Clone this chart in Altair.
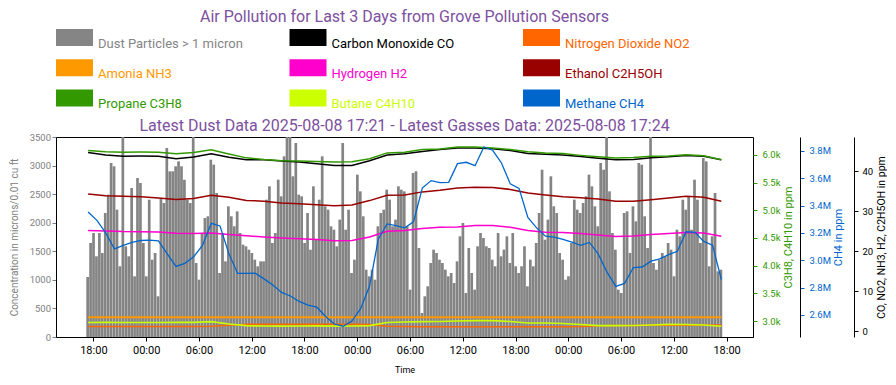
import altair as alt
import pandas as pd

FONT = "Roboto"
PURPLE = "#7d50a0"
GREY = "#808080"
GREEN = "#339900"
BLUE = "#0066cc"
BLACK = "#000000"
NO2C = "#ff6600"
NH3C = "#ff9900"
H2C = "#ff00cc"
ETHC = "#990000"
BUTC = "#ccff00"

# ---------------- data ----------------
legend_names = ["Dust Particles > 1 micron", "Carbon Monoxide CO", "Nitrogen Dioxide NO2",
                "Amonia NH3", "Hydrogen H2", "Ethanol C2H5OH",
                "Propane C3H8", "Butane C4H10", "Methane CH4"]
legend_colors = ["#858585", BLACK, NO2C, NH3C, H2C, ETHC, GREEN, BUTC, BLUE]

# dust particles, one reading every 20 minutes
dust_values = [
    1050, 1645, 1820, 1412, 1820, 1470, 2170, 2491, 3045, 2987,
    2228, 1237, 3800, 1587, 1412, 2608, 1062, 2783, 2695, 1645,
    1062, 2403, 1353, 1470, 712, 2433, 2345, 3308, 2899, 2899,
    2987, 3074, 2987, 2753, 2403, 2345, 3800, 1295, 1003, 1820,
    2083, 2112, 3103, 3016, 2520, 1120, 1820, 1324, 2287, 2112,
    1937, 2199, 1820, 1616, 1587,
    1528, 1470, 1353, 1237, 1324, 1324, 2403, 2637, 1645, 1820,
    2753, 2462, 3162, 3800, 3700, 2812, 3395, 2491, 2462, 1645,
    2170, 1528, 2637, 1703, 2403, 3162, 2287, 2228, 1937, 1878,
    1587, 2054, 3395, 1878, 2228, 1120, 1353, 2841, 2549, 2112,
    1178, 1062, 1178, 1003, 1937, 2170, 2228, 2578, 2403, 1937,
    2054, 2637, 2578, 2549, 1937,
    828, 2870, 2900, 1558, 420, 712, 887, 1295, 1528, 1470,
    1353, 1295, 1178, 1062, 1120, 945, 1324, 1762, 1995, 770,
    1558, 1120, 828, 1587, 1820, 1733, 1587, 1558, 1353, 1237,
    1820, 1412, 1528, 1762, 1295, 1820, 1237, 1120, 1237, 1587,
    887, 1353, 1237, 1645, 2170, 2928, 1703, 2054, 2812, 2287,
    2170, 1470, 1353, 1003,
    1062, 1645, 2403, 2228, 2170, 2345, 2462, 2841, 2637, 2287,
    1937, 3045, 2928, 3800, 2549, 1820, 1528, 828, 770, 2170,
    2199, 1470, 2287, 2024, 3045, 3016, 2112, 1558, 3800, 1295,
    1178, 1353, 1470, 1412, 1645, 1528, 1062, 1878, 1762, 2403,
    2228, 2462, 1878, 2753, 2403, 1645, 3133, 3074, 1237, 1762,
    2520, 1149, 1178,
]
dust_times = pd.date_range("2025-08-05 17:21", periods=len(dust_values), freq="20min")

# gases, one reading every 2 hours
co_values = [44.65, 44.0, 43.7, 43.73, 43.7, 43.08, 43.5, 44.33, 43.45, 42.8,
             42.83, 42.5, 42.25, 41.83, 41.38, 41.38, 42.58, 44.0, 44.3, 44.85,
             45.35, 45.73, 45.75, 45.55, 45.1, 44.4, 44.18, 44.03, 43.63, 43.2,
             42.83, 42.88, 43.33, 43.58, 43.88, 43.7, 42.83]
propane_values = [6083, 6060, 6051, 6052, 6051, 6023, 6045, 6094, 6018, 5948,
                  5917, 5895, 5892, 5881, 5874, 5877, 5931, 6038, 6051, 6098,
                  6110, 6143, 6145, 6126, 6098, 6060, 6036, 6025, 5993, 5966,
                  5946, 5955, 5977, 5980, 6004, 5986, 5915]
ethanol_values = [34.23, 33.83, 33.7, 33.55, 33.28, 32.85, 33.15, 33.95, 33.45, 32.63,
                  32.45, 32.03, 31.8, 31.58, 31.3, 31.48, 32.6, 33.93, 33.98, 34.78,
                  35.2, 35.73, 35.93, 35.85, 35.4, 34.5, 34.0, 33.55, 33.3, 32.98,
                  32.45, 32.43, 32.83, 33.25, 33.68, 33.45, 32.43]
h2_values = [25.15, 25.0, 24.85, 24.83, 24.73, 24.45, 24.38, 24.5, 24.1, 23.8,
             23.53, 23.25, 23.05, 22.9, 22.55, 22.65, 23.5, 24.93, 25.15, 25.6,
             25.93, 26.0, 26.4, 26.4, 25.93, 25.1, 24.68, 24.63, 24.38, 24.0,
             23.65, 23.73, 24.15, 24.38, 24.6, 24.48, 23.68]
nh3_values = [3.42] * 37
no2_values = [1.15, 1.15, 1.15, 1.15, 1.15, 1.15, 1.15, 1.2, 1.45, 1.7,
              1.7, 1.7, 1.7, 1.7, 1.7, 1.7, 1.65, 1.2, 1.1, 1.05,
              1.05, 1.05, 1.05, 1.05, 1.05, 1.05, 1.05, 1.05, 1.1, 1.3,
              1.4, 1.4, 1.45, 1.45, 1.45, 1.45, 1.5]
butane_values = [2973, 2977, 2973, 2973, 2973, 2977, 2977, 2988, 2946, 2915,
                 2910, 2908, 2910, 2912, 2908, 2910, 2915, 2973, 2982, 2988,
                 2991, 3000, 3006, 3006, 2991, 2964, 2964, 2955, 2937, 2915,
                 2915, 2919, 2928, 2940, 2937, 2928, 2905]
gas_times = pd.date_range("2025-08-05 17:24", periods=37, freq="2h")

# methane, one reading every hour
methane_values = [
    3.354, 3.292, 3.200, 3.083, 3.109, 3.132, 3.145, 3.147, 3.142, 3.047,
    2.955, 2.978, 3.025, 3.109, 3.270, 3.251, 3.049, 2.904, 2.904, 2.906,
    2.864, 2.820, 2.765, 2.739, 2.699, 2.673, 2.657, 2.589, 2.534, 2.518,
    2.556, 2.648, 2.812, 3.156, 3.266, 3.253, 3.237, 3.281, 3.529, 3.583,
    3.568, 3.570, 3.707, 3.717, 3.692, 3.829, 3.805, 3.712, 3.559, 3.526,
    3.314, 3.237, 3.177, 3.169, 3.153, 3.133, 3.109, 3.131, 3.047, 2.913,
    2.809, 2.831, 2.947, 2.951, 2.994, 3.010, 3.041, 3.066, 3.209, 3.204,
    3.138, 3.111, 2.859,
]
methane_times = pd.date_range("2025-08-05 17:24", periods=len(methane_values), freq="1h")

x_ticks = [(5, 18), (6, 0), (6, 6), (6, 12), (6, 18), (7, 0), (7, 6),
           (7, 12), (7, 18), (8, 0), (8, 6), (8, 12), (8, 18)]

# ---------------- tables ----------------
fmt = "%Y-%m-%dT%H:%M:%S"
dust_df = pd.DataFrame({"time": dust_times.strftime(fmt), "value": dust_values})
gas_df = pd.DataFrame({
    "time": gas_times.strftime(fmt), "co": co_values, "propane": propane_values,
    "ethanol": ethanol_values, "h2": h2_values, "nh3": nh3_values,
    "no2": no2_values, "butane": butane_values,
})
meth_df = pd.DataFrame({"time": methane_times.strftime(fmt),
                        "methane": [v * 1e6 for v in methane_values]})
leg_df = pd.DataFrame({"name": legend_names, "color": legend_colors,
                       "col": [i % 3 for i in range(9)], "row": [i // 3 for i in range(9)]})

# ---------------- main plot ----------------
x_scale = alt.Scale(domain=[alt.DateTime(year=2025, month=8, date=5, hours=13, minutes=45),
                            alt.DateTime(year=2025, month=8, date=8, hours=21, minutes=0)],
                    nice=False, padding=0)
x_axis = alt.Axis(values=[alt.DateTime(year=2025, month=8, date=d, hours=h) for d, h in x_ticks],
                  format="%H:%M", title="Time", labelFontSize=11, titleFontSize=9,
                  labelColor=BLACK, titleColor=BLACK, tickColor=BLACK, domainColor=BLACK,
                  tickSize=4, labelPadding=3, titlePadding=10, labelFlush=False,
                  labelOverlap=False, titleFontWeight="normal", grid=False)
X = alt.X("time:T", scale=x_scale, axis=x_axis)

left_axis = alt.Axis(orient="left", values=list(range(0, 3501, 500)), format="d",
                     title="Concentration in microns/0.01 cu ft", labelColor=GREY,
                     titleColor=GREY, tickColor=GREY, domainColor=BLACK, labelFontSize=9.5,
                     titleFontSize=10, titleFontWeight="normal", tickSize=4,
                     labelPadding=1.5, titleX=-42, titleY=100, titleBaseline="middle",
                     labelFlush=False, labelOverlap=False, grid=False)
bars = alt.Chart(dust_df).mark_bar(size=2.7, color="#848484", clip=True).encode(
    x=X,
    y=alt.Y("value:Q", scale=alt.Scale(domain=[0, 3500], nice=False, zero=False), axis=left_axis),
)

BLACK_DOM = [-1.5, 48.5]
GREEN_DOM = [2711, 6325]
BLUE_DOM = [2439000, 3902000]

black_axis = alt.Axis(orient="right", offset=101, values=[0, 10, 20, 30, 40],
                      title="CO, NO2, NH3, H2, C2H5OH in ppm", labelColor=BLACK,
                      titleColor=BLACK, tickColor=BLACK, domainColor=BLACK, labelFontSize=9.5,
                      titleFontSize=10.5, titleFontWeight="normal", tickSize=4,
                      labelPadding=4, titleAngle=270, titleX=27, titleY=100,
                      titleBaseline="middle", labelFlush=False, labelOverlap=False, grid=False)
green_axis = alt.Axis(orient="right", offset=0, values=list(range(3000, 6001, 500)),
                      format=".2s", title="C3H8, C4H10 in ppm", labelColor=GREEN,
                      titleColor=GREEN, tickColor=GREEN, domain=False, labelFontSize=9.5,
                      titleFontSize=11, titleFontWeight="normal", tickSize=4,
                      labelPadding=5, titleAngle=270, titleX=35, titleY=100,
                      titleBaseline="middle", labelFlush=False, labelOverlap=False, grid=False)
blue_axis = alt.Axis(orient="right", offset=47, values=[2600000 + 200000 * i for i in range(7)],
                     format=".2s", title="CH4 in ppm", labelColor=BLUE, titleColor=BLUE,
                     tickColor=BLUE, domainColor=BLACK, labelFontSize=9.5, titleFontSize=11,
                     titleFontWeight="normal", tickSize=4, labelPadding=5, titleAngle=270,
                     titleX=38, titleY=100, titleBaseline="middle", labelFlush=False,
                     labelOverlap=False, grid=False)


def gas_line(df, field, color, dom, axis=None, width=1.5):
    y_args = dict(scale=alt.Scale(domain=dom, nice=False, zero=False))
    y_args["axis"] = axis if axis is not None else alt.Axis(labels=False, ticks=False,
                                                             domain=False, title="", grid=False)
    return alt.Chart(df).mark_line(color=color, strokeWidth=width, clip=True).encode(
        x=X, y=alt.Y(f"{field}:Q", **y_args))


layers = [
    bars,
    gas_line(gas_df, "nh3", NH3C, BLACK_DOM, width=2),
    gas_line(gas_df, "no2", NO2C, BLACK_DOM),
    gas_line(gas_df, "butane", BUTC, GREEN_DOM, width=1.7),
    gas_line(gas_df, "h2", H2C, BLACK_DOM),
    gas_line(gas_df, "ethanol", ETHC, BLACK_DOM),
    gas_line(gas_df, "co", BLACK, BLACK_DOM, axis=black_axis),
    gas_line(gas_df, "propane", GREEN, GREEN_DOM, axis=green_axis),
    gas_line(meth_df, "methane", BLUE, BLUE_DOM, axis=blue_axis, width=1.3),
]

main = alt.layer(*layers).resolve_scale(y="independent").properties(
    width=697, height=200,
    title=alt.TitleParams("Latest Dust Data 2025-08-08 17:21 - Latest Gasses Data: 2025-08-08 17:24",
                          anchor="middle", frame="group", fontSize=16, color=PURPLE,
                          font=FONT, fontWeight="normal", offset=-1.5),
    view=alt.ViewBackground(stroke=BLACK, strokeWidth=1),
)

# ---------------- legend block ----------------
RECT = "M-1,-0.46L1,-0.46L1,0.46L-1,0.46Z"
lx = alt.X("col:Q", scale=alt.Scale(domain=[0, 2], range=[18.5, 485.5]), axis=None)
ly = alt.Y("row:Q", scale=alt.Scale(domain=[0, 2], range=[10.5, 71]), axis=None)
lc = alt.Color("color:N", scale=None, legend=None)
swatches = alt.Chart(leg_df).mark_point(shape=RECT, size=1369, filled=True, opacity=1,
                                        strokeWidth=0).encode(x=lx, y=ly, color=lc)
labels = alt.Chart(leg_df).mark_text(align="left", baseline="alphabetic", dx=23.5, dy=10,
                                     fontSize=13, font=FONT).encode(
    x=lx, y=ly, color=lc, text="name:N")
legend_block = alt.layer(swatches, labels).properties(
    width=697, height=80,
    title=alt.TitleParams("Air Pollution for Last 3 Days from Grove Pollution Sensors",
                          anchor="middle", frame="group", fontSize=16, color=PURPLE,
                          font=FONT, fontWeight="normal", offset=2),
    view=alt.ViewBackground(stroke="transparent"),
)

chart = alt.vconcat(legend_block, main, spacing=30, bounds="flush").properties(
    padding={"left": 0, "top": 0, "right": 0, "bottom": 0}
).configure(font=FONT)

chart.save("out.html", embed_options={"renderer": "svg", "actions": False})
